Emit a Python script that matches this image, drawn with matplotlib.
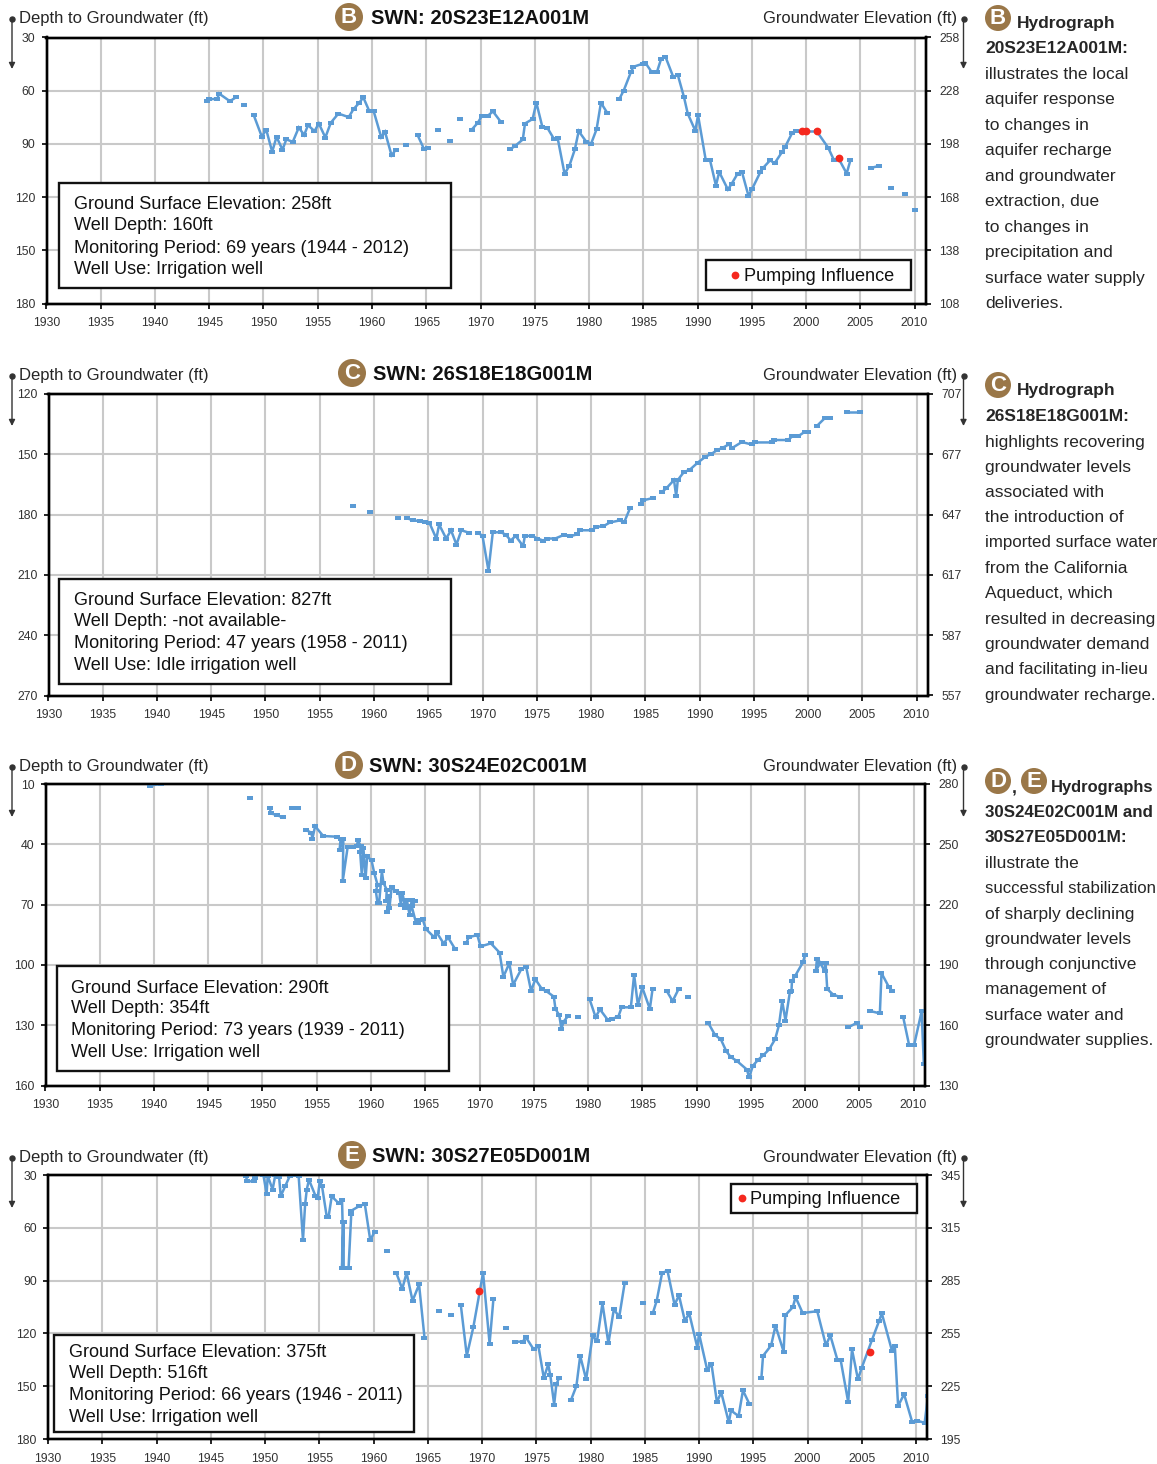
import numpy as np
import matplotlib
matplotlib.use("Agg")
import matplotlib.pyplot as plt
from matplotlib.patches import Circle, Rectangle
from matplotlib.path import Path

W, H = 1157, 1464
NARROW = 'Liberation Sans'
REG = 'Liberation Sans'

years_ticks = list(range(1930, 2011, 5))

hydro_b = [
 [(1944.8,65.9),(1945.0,64.8),(1945.75,64.6),(1945.9,61.6),(1946.9,65.9),(1947.5,63.6)],
 [(1948.2,68.2)],
 [(1949.1,73.8),(1949.85,86),(1950.25,81.9),(1950.8,94.5),(1951.2,86),(1951.75,93.3),(1952.1,87.5),(1952.7,88.8),(1953.25,80.8),(1953.75,85),(1954.1,79.4),(1954.7,82.8),(1955.1,78.5),(1955.7,86.4),(1956.2,78.1),(1956.9,72.9),(1957.85,74.9),(1958.3,70.4),(1958.8,67),(1959.2,63.8),(1959.75,71.5),(1960.15,71.5),(1960.85,86.2),(1961.2,83.2),(1961.8,96.4),(1962.2,93.3)],
 [(1963.1,90.9)],
 [(1964.2,85),(1964.8,93),(1965.2,92.2)],
 [(1966.1,81.9)],[(1967.2,88.6)],[(1968.15,76)],
 [(1969.2,81.9),(1969.75,78.1),(1970.15,74),(1970.7,74),(1971.15,71.7),(1971.85,77.4)],
 [(1972.75,93),(1973.2,91.1),(1973.9,87.5),(1974.1,78.5),(1974.8,76),(1975.15,66.8),(1975.7,80.4),(1976.15,80.8),(1976.75,87),(1977.1,86.4),(1977.75,106.9),(1978.2,102.2),(1978.7,93),(1979.05,82.8),(1979.75,88.8),(1980.2,89.8),(1980.7,81.7),(1981.1,66.8),(1981.7,72.7)],
 [(1982.8,64.6),(1983.2,59.9),(1983.85,49.7),(1984.1,46.5),(1985,44.7),(1985.2,44.3),(1985.8,49.7),(1986.25,49.7),(1986.65,42),(1987.05,40.9),(1987.75,52),(1988.2,51.4),(1988.75,63.5),(1989.1,72.9),(1989.8,82.6),(1990.05,73.8),(1990.75,98.8),(1991.15,99),(1991.7,113.5),(1992,105.8),(1992.8,115.7),(1993.15,112.5),(1993.7,106.7),(1994.1,105.9),(1994.7,119.3),(1995.05,115.2),(1995.8,105.8),(1996.05,103.5),(1996.7,99.2),(1997.1,101),(1997.8,94.5),(1998.05,92),(1998.7,84.1),(1999.1,82.8),(2000,83),(2001,83),(2002.05,92.2),(2002.55,98.8),(2003,98.2),(2003.75,106.7),(2004.1,99)],
 [(2006,103.5),(2006.75,102.4)],
 [(2007.85,115)],[(2009.1,118.4)],[(2010.05,127.4)],
]
red_b = [(1999.65,83),(2000,83),(2001,83),(2003,97.7)]

hydro_c = [
 [(1958.1,175.8)],[(1959.6,178.8)],[(1962.2,181.7)],
 [(1963.0,181.7),(1963.6,182.9),(1964.25,183.2),(1964.7,183.9),(1965.1,184),(1965.75,192),(1966,184.9),(1966.65,191.9),(1967.1,187.8),(1967.6,194.9),(1968.05,187.8),(1968.75,189)],
 [(1969.6,189),(1970,190.6),(1970.55,207.9),(1970.95,188.8),(1971.7,188.8),(1972.15,190),(1972.6,192.9),(1973.05,190.6),(1973.75,195.7),(1973.9,190.6),(1974.6,190.6),(1975.05,191.9),(1975.6,192.9),(1975.95,191.9),(1976.7,191.9),(1977.55,190),(1978.05,190.8),(1978.75,189.8),(1978.95,187.8),(1980.1,187.8),(1980.5,186),(1981.1,185.9),(1981.75,183.9),(1982.65,182.9),(1983.05,183.9),(1983.6,176.8)],
 [(1984.65,174.7),(1984.8,172.9),(1985.75,171.7)],
 [(1986.5,168.9),(1986.95,166.9),(1987.65,162.8),(1987.85,170.9),(1988,162.8),(1988.55,158.9),(1989.1,157.7),(1989.85,154.1),(1990.55,151.2),(1991.1,149.8),(1991.6,148),(1992.15,146.7),(1992.7,145.1),(1993,146.9),(1993.9,143.9),(1994.8,145.1),(1995.15,144.1),(1996.7,144.1),(1996.9,142.9),(1998.15,142.9),(1998.55,141.1),(1999.1,141),(1999.7,138.8),(2000,138.8)],
 [(2000.8,136),(2001.55,132),(2002.05,132)],
 [(2003.6,129.1),(2004.8,129.1)],
]

hydro_d = [
 [(1939.6,10.8),(1940.6,10)],
 [(1948.85,17)],
 [(1950.7,22.1),(1950.75,24.6),(1951.3,25.4),(1951.85,26.6)],
 [(1952.7,22.1),(1953.3,22.1)],
 [(1954.0,32.9),(1954.5,34.2),(1954.6,37.2),(1954.85,31),(1955.6,35.9),(1956.85,36.2),(1957.2,37.4),(1957.1,43),(1957.45,37.2),(1957.4,58.1),(1957.85,41.3),(1958.3,41.5),(1958.7,40.7),(1958.8,38),(1959.05,41),(1959,43.9),(1959.15,55.1),(1959.3,41.8),(1959.5,57),(1959.65,46),(1960.05,48),(1960.3,54.3),(1960.6,60.1),(1960.45,63.4),(1960.6,69.2),(1960.75,69.2),(1961,53.4),(1961.15,59.2),(1961.45,62.6),(1961.4,68.4),(1961.7,65.9),(1961.45,73.8),(1961.7,71.7),(1961.9,61.4),(1962.3,63.4),(1962.6,64.2),(1962.75,70),(1962.9,64.2),(1963.15,71.7),(1963.3,67.5),(1963.55,75),(1963.75,67.9),(1964.05,68.4),(1963.75,70.8),(1964.15,79.1),(1964.35,79.1),(1964.45,77.5),(1964.75,77.1),(1965.05,82.1),(1965.8,86.1),(1966.05,83.8),(1966.7,89.4),(1967.1,86.3),(1967.75,92.1)],
 [(1968.8,89),(1969,86.2),(1969.8,85.2),(1970.1,90.8),(1971.05,89.3),(1971.85,93.9),(1972.2,105.9),(1972.75,99.2),(1973.1,109.9),(1973.85,102.1),(1974.3,101),(1974.75,112.9),(1975.15,107.1),(1975.75,112),(1976.2,113.2),(1976.85,115.8),(1977,121.9),(1977.35,125),(1977.55,131.8),(1977.75,128.2),(1978.2,125.2)],
 [(1979.05,126)],
 [(1980.15,117.1),(1980.7,126),(1981.1,122.1),(1981.8,127.2),(1982.2,126.9),(1982.8,125.7),(1983.1,121.1),(1983.95,121.1),(1984.25,104.9),(1984.6,120.1),(1985,111.2),(1985.7,121.9),(1985.95,112)],
 [(1987.25,112.9),(1987.8,118),(1988.35,112)],
 [(1989.25,116)],
 [(1991.1,129),(1991.7,134.8),(1992.25,137.1),(1992.75,143),(1993.15,145.8),(1993.75,147.9),(1994.65,152.1),(1994.85,156),(1995.2,150.1),(1995.7,147.1),(1996.15,145),(1996.7,142),(1997.25,136.9),(1997.6,130),(1997.9,118),(1998.2,127.7),(1998.6,113.7),(1998.75,113.2),(1998.8,107.9),(1999.1,105.4),(1999.8,98.8),(2000,95.1)],
 [(2001.1,97),(2001,103),(2001.4,99),(2001.8,103),(2001.9,99.2),(2002.05,112),(2002.6,114.8),(2003.25,116)],
 [(2004,131),(2004.8,128.8),(2005.05,131)],
 [(2005.95,122.9),(2006.9,124.1),(2007.05,104.1),(2007.75,111.2),(2008.05,112.9)],
 [(2009.05,126),(2009.6,140),(2010.05,140),(2010.75,123.1),(2010.95,149.1)],
]

hydro_e = [
 [(1948.25,30.4),(1948.35,33.6),(1949,33.6),(1949.1,31.7)],
 [(1949.85,30),(1950.15,40.6),(1950.25,30.4),(1950.7,38.3),(1950.95,30),(1951.3,31.3),(1951.45,42),(1951.85,36.5),(1952.3,30.4),(1953.1,30.4),(1953.5,67),(1953.7,46.5),(1953.85,38.3),(1954.05,32.7),(1954.65,41.8),(1954.85,43.1),(1955.05,33.6),(1955.25,36.1),(1955.7,54.1),(1955.85,54.1),(1956.15,42.1),(1956.8,46.1),(1957.1,44),(1957.15,56.9),(1957.1,83.1),(1957.25,56.9),(1957.25,83.1),(1957.7,83.1),(1957.95,52.2),(1957.95,50.3),(1958.65,47.8),(1959.2,46.5),(1959.7,67),(1960.1,62.3)],
 [(1961.2,72.9)],
 [(1962.1,85.6),(1962.65,94.7),(1963.05,85.6),(1963.6,101.5),(1964.2,92.2),(1964.7,122.4)],
 [(1966,107.4)],[(1967.15,109.7)],
 [(1968.05,104),(1968.6,132.7),(1969.2,116.5),(1970.1,85.6),(1970.7,125.8),(1971.05,100.6)],
 [(1972.2,116.7)],
 [(1973.05,124.7),(1973.75,124.7),(1974.05,122.2),(1974.75,129),(1975.2,127.2),(1975.7,145.4),(1976.1,137.6),(1976.3,143.9),(1976.65,160.4),(1976.85,149),(1977.1,145.4)],
 [(1978.2,157.9),(1978.7,149.9),(1979.05,132.8),(1979.6,146.1),(1980.2,121.1),(1980.6,124.5),(1981.1,102.9),(1981.65,125.6),(1982.15,106.3),(1982.65,110.6),(1983.15,91.3)],
 [(1984.8,102.7)],
 [(1985.75,108.4),(1986.1,101.5),(1986.6,85.6),(1987.1,84.5),(1987.75,103.8),(1988.15,98.3),(1988.7,112.9),(1989.1,108.6),(1989.85,128.1),(1990,120.1),(1990.75,140.6),(1991.15,137.4),(1991.65,159),(1992.05,153.5),(1992.75,170.6),(1992.95,163.8),(1993.65,167),(1994.05,152.4),(1994.65,160.2)],
 [(1995.75,145.4),(1995.9,132.8),(1996.65,126.8),(1997.05,115.6),(1997.8,130.4),(1997.95,109.7),(1998.65,105.1),(1998.9,99.4),(1999.55,108.4),(2000.9,107.4),(2001.7,126.8),(2002.1,121.1),(2002.75,134.9),(2003.05,134.9),(2003.75,159),(2004.1,129.1),(2004.65,146.1),(2005,139.5),(2005.95,123.6),(2006.6,112.9),(2006.85,108.6),(2007.8,130.2),(2008.05,127.2),(2008.35,161.3),(2008.9,154.5),(2009.65,170.4),(2010.05,169.5),(2010.8,170.8),(2011.1,155.6)],
]
red_e = [(1969.75,96),(2005.75,130.4)]

BLUE = '#5B9BD5'
GRID = '#C9C9C9'
BROWN = '#9A7748'
TXT = '#262626'
dash = Path([(-1,-.7),(1,-.7),(1,.7),(-1,.7),(-1,-.7)])

panels = [
 dict(box=(46.5,926,37.5,303.5), depth0=30, elev0=258, data=hydro_b, red=red_b, swn='SWN: 20S23E12A001M', letter='B',
      badge=(349,17), title_x=371, ty=17, info=['Ground Surface Elevation: 258ft','Well Depth: 160ft','Monitoring Period: 69 years (1944 - 2012)','Well Use: Irrigation well'],
      ibox=(59,451,183,288), ix=74, iy=[203,224,247,268], leg=(706,911,260,290), dot=(735,275), ltx=744),
 dict(box=(48.5,928,394,695.5), depth0=120, elev0=707, data=hydro_c, red=[], swn='SWN: 26S18E18G001M', letter='C',
      badge=(352,373), title_x=373, ty=373, info=['Ground Surface Elevation: 827ft','Well Depth: -not available-','Monitoring Period: 47 years (1958 - 2011)','Well Use: Idle irrigation well'],
      ibox=(59,451,579,684), ix=74, iy=[599,620,642,664]),
 dict(box=(45.5,925,784,1085.5), depth0=10, elev0=280, data=hydro_d, red=[], swn='SWN: 30S24E02C001M', letter='D',
      badge=(349,765), title_x=369, ty=765, info=['Ground Surface Elevation: 290ft','Well Depth: 354ft','Monitoring Period: 73 years (1939 - 2011)','Well Use: Irrigation well'],
      ibox=(57,449,966,1071), ix=71, iy=[987,1007,1029,1051]),
 dict(box=(48,927,1175,1439), depth0=30, elev0=345, data=hydro_e, red=red_e, swn='SWN: 30S27E05D001M', letter='E',
      badge=(352,1155), title_x=372, ty=1155, info=['Ground Surface Elevation: 375ft','Well Depth: 516ft','Monitoring Period: 66 years (1946 - 2011)','Well Use: Irrigation well'],
      ibox=(54,414,1335,1432), ix=69, iy=[1351,1372,1394,1416], leg=(731,917,1184,1213), dot=(742,1198), ltx=750),
]

side_b = ['illustrates the local','aquifer response','to changes in','aquifer recharge','and groundwater','extraction, due','to changes in','precipitation and','surface water supply','deliveries.']
side_c = ['highlights recovering','groundwater levels','associated with','the introduction of','imported surface water','from the California','Aqueduct, which','resulted in decreasing','groundwater demand','and facilitating in-lieu','groundwater recharge.']
side_d = ['illustrate the','successful stabilization','of sharply declining','groundwater levels','through conjunctive','management of','surface water and','groundwater supplies.']
long_lines = {'imported surface water':12.2,'groundwater recharge.':12.2,'successful stabilization':12.1,'groundwater supplies.':12.3}

fig = plt.figure(figsize=(W/100, H/100), dpi=100, facecolor='white')
ov = fig.add_axes([0,0,1,1], zorder=10)
ov.set_xlim(0,W); ov.set_ylim(H,0); ov.axis('off'); ov.patch.set_alpha(0)

def t(x,y,s,size,weight='normal',family=NARROW,ha='left',color=TXT,**k):
    return ov.text(x,y+1.2,s,fontsize=size,fontweight=weight,family=family,ha=ha,va='center',color=color,**k)

def badge(x,y,r,letter,fs):
    ov.add_patch(Circle((x,y),r,fc=BROWN,ec='none'))
    t(x,y-0.5,letter,fs,weight='bold',family=REG,ha='center',color='white')

def arrow(x,y0,y1):
    ov.plot([x],[y0],'o',ms=3.6,color='#333333')
    ov.annotate('',xy=(x,y1),xytext=(x,y0),arrowprops=dict(arrowstyle='-|>',color='#333333',lw=1,mutation_scale=9,shrinkA=0,shrinkB=0))

for p in panels:
    l,r,tp,b = p['box']
    ax = fig.add_axes([l/W,1-b/H,(r-l)/W,(b-tp)/H])
    ax.set_xlim(1930,1930+(r-l)/10.85)
    ax.set_ylim(p['depth0']+150,p['depth0'])
    ax.set_xticks(years_ticks)
    ax.set_yticks(np.arange(p['depth0'],p['depth0']+151,30))
    ax.grid(True,color=GRID,lw=1.5)
    ax.set_axisbelow(True)
    ax.tick_params(axis='x',length=3.5,width=1.2,pad=6.5,labelsize=8.8,labelcolor='#333333')
    ax.tick_params(axis='y',length=3.5,width=1.2,pad=4.5,labelsize=8.8,labelcolor='#333333')
    ax2 = ax.twinx()
    ax2.set_ylim(p['elev0']-150,p['elev0'])
    ax2.set_yticks(np.arange(p['elev0']-150,p['elev0']+1,30))
    ax2.tick_params(axis='y',length=3.5,width=1.2,pad=6,labelsize=8.8,labelcolor='#333333')
    for a in (ax,ax2):
        for s in a.spines.values(): s.set_linewidth(1.7)
        for lab in a.get_xticklabels()+a.get_yticklabels(): lab.set_family(NARROW)
    for seg in p['data']:
        xs,ys = zip(*seg)
        ax.plot(xs,ys,color=BLUE,lw=1.8,marker=dash,ms=4.6,mew=0,solid_joinstyle='miter',zorder=3)
    if p['red']:
        xs,ys = zip(*p['red'])
        ax.plot(xs,ys,ls='none',marker='o',ms=5.6,color='#F5281E',mew=0,zorder=4)
    ly = p['ty']+ (1 if p['letter'] in 'CE' else 0)
    t(19,ly,'Depth to Groundwater (ft)',11.95)
    t(957,ly,'Groundwater Elevation (ft)',11.85,ha='right')
    arrow(12,ly+2,ly+52); arrow(963.5,ly+2,ly+52)
    badge(*p['badge'],14,p['letter'],16)
    t(p['title_x'],p['ty'],p['swn'],14.5,weight='bold',family=REG,color='#111111')
    x0,x1,y0,y1 = p['ibox']
    ov.add_patch(Rectangle((x0,y0),x1-x0,y1-y0,fc='white',ec='#111111',lw=1.7))
    for s,y in zip(p['info'],p['iy']):
        t(p['ix'],y,s,13.1,family=REG,color='#111111')
    if 'leg' in p:
        x0,x1,y0,y1 = p['leg']
        ov.add_patch(Rectangle((x0,y0),x1-x0,y1-y0,fc='white',ec='#111111',lw=1.7))
        ov.plot(*p['dot'],'o',ms=5.6,color='#F5281E',mew=0)
        t(p['ltx'],p['dot'][1],'Pumping Influence',13.1,family=REG,color='#111111')

def side(lines,ys):
    for s,y in zip(lines,ys):
        t(985,y,s,long_lines.get(s,12.5))
def head(x,y,s,size=12.5):
    t(x,y,s,size,weight='bold')

badge(998,18,13,'B',16)
head(1017,22,'Hydrograph'); head(985,47,'20S23E12A001M:')
side(side_b,[73,98,124,149,175,200,226,251,277,302])

badge(998,385,13,'C',16)
head(1017,389,'Hydrograph'); head(985,415,'26S18E18G001M:')
side(side_c,[441,466,491,516,541,567,592,618,643,668,694])

badge(998,781,13,'D',16)
t(1012,788,',',12.5,weight='bold')
badge(1034,781,13,'E',16)
head(1051,786,'Hydrographs',11.9); head(985,811,'30S24E02C001M and',12.2); head(985,836,'30S27E05D001M:')
side(side_d,[862,887,913,938,963,988,1014,1039])

fig.savefig('out.png',dpi=100)
